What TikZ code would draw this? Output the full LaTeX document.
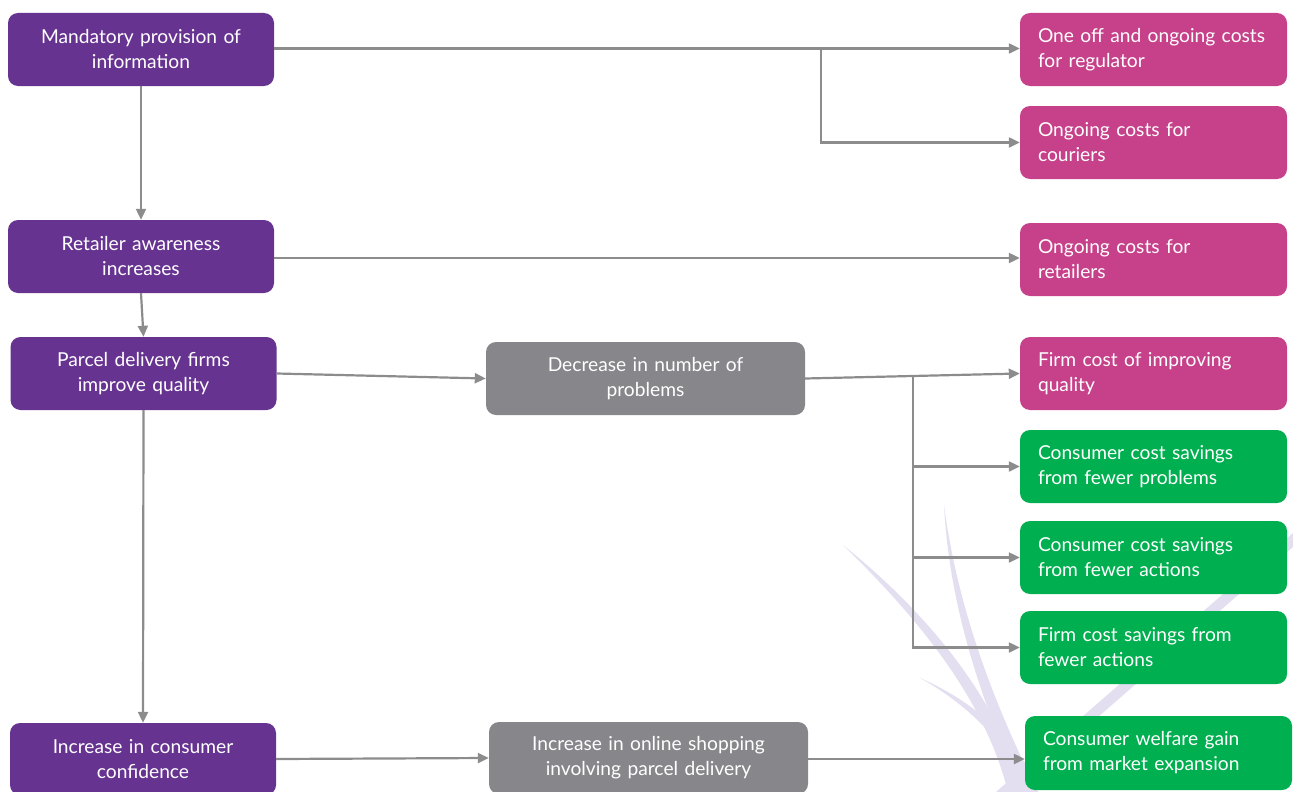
\documentclass[tikz,border=0pt]{standalone}
\usepackage{fontspec}
\setmainfont{Lato}
\usetikzlibrary{arrows.meta}
\definecolor{purp}{HTML}{673391}
\definecolor{pinkc}{HTML}{C6418A}
\definecolor{greenc}{HTML}{00AF50}
\definecolor{grayc}{HTML}{87868B}
\definecolor{linec}{HTML}{8C8C8C}
\definecolor{lav}{HTML}{E3DEF0}
\tikzset{
  box/.style={rounded corners=10pt, text=white, font=\fontsize{19.2}{25}\selectfont, inner sep=0pt},
  leftbox/.style={box, fill=purp, minimum width=266pt, minimum height=73pt, text width=255pt, align=center},
  midbox/.style={box, fill=grayc, minimum width=319pt, minimum height=73pt, text width=305pt, align=center},
  costbox/.style={box, fill=pinkc, minimum width=267pt, minimum height=73pt, text width=231pt, align=left},
  gainbox/.style={box, fill=greenc, minimum width=267pt, minimum height=73pt, text width=231pt, align=left},
  conn/.style={draw=linec, line width=2.2pt, -{Triangle[length=11pt,width=10pt]}},
}
\begin{document}
\begin{tikzpicture}[x=1pt,y=-1pt]
\useasboundingbox (0,0) rectangle (1293,792);
% background swooshes
\fill[lav] (843,545) .. controls (920,620) and (985,700) .. (1008,792) -- (1024,792) .. controls (998,700) and (930,615) .. (843,545) -- cycle;
\fill[lav] (944,505) .. controls (950,620) and (990,720) .. (1022,792) -- (1038,792) .. controls (1002,720) and (959,620) .. (944,505) -- cycle;
\fill[lav] (920,678) .. controls (960,700) and (1000,735) .. (1020,778) -- (1028,768) .. controls (1006,730) and (966,698) .. (920,678) -- cycle;
\fill[lav] (1293,533) -- (1293,547) -- (1012,792) -- (996,792) -- cycle;
% nodes
\node[leftbox] (nA) at (141,49.5) {Mandatory provision of\\information};
\node[leftbox] (nB) at (141,256.5) {Retailer awareness\\increases};
\node[leftbox] (nC) at (143.5,373.5) {Parcel delivery firms\\improve quality};
\node[leftbox, minimum height=72pt] (nD) at (143,759) {Increase in consumer\\confidence};
\node[midbox] (gA) at (645.5,378.5) {Decrease in number of\\problems};
\node[midbox, minimum height=72pt] (gB) at (648.5,758) {Increase in online shopping\\involving parcel delivery};
\node[costbox] (p1) at (1153.5,49.5) {One off and ongoing costs\\for regulator};
\node[costbox] (p2) at (1153.5,142.5) {Ongoing costs for\\couriers};
\node[costbox] (p3) at (1153.5,259.5) {Ongoing costs for\\retailers};
\node[costbox] (p4) at (1153.5,373.5) {Firm cost of improving\\quality};
\node[gainbox] (e1) at (1153.5,466.5) {Consumer cost savings\\from fewer problems};
\node[gainbox] (e2) at (1153.5,557.5) {Consumer cost savings\\from fewer actions};
\node[gainbox] (e3) at (1153.5,647.5) {Firm cost savings from\\fewer actions};
\node[gainbox, minimum height=74pt] (e4) at (1158.5,753) {Consumer welfare gain\\from market expansion};
% junctions
\coordinate (j1) at (821,48.5);
\coordinate (j2) at (913,376.5);
% connectors
\draw[conn] (nA.east |- j1) -- (j1 -| p1.west);
\draw[conn] (j1) |- (p2.west);
\draw[conn] (nA.south) -- (nB.north);
\draw[conn] ([yshift=-1.5pt]nB.east) -- ([yshift=-1.5pt]nB.east -| p3.west);
\draw[conn] (nB.south) -- (nC.north);
\draw[conn] (nC.east) -- (gA.west);
\draw[conn] (nC.south) -- (nD.north);
\draw[conn] (gA.east) -- (p4.west);
\draw[conn] (j2) |- (e1.west);
\draw[conn] (j2) |- (e2.west);
\draw[conn] (j2) |- (e3.west);
\draw[conn] (nD.east) -- (gB.west);
\draw[conn] ([yshift=-1pt]gB.east) -- ([yshift=-1pt]gB.east -| e4.west);
\end{tikzpicture}
\end{document}
